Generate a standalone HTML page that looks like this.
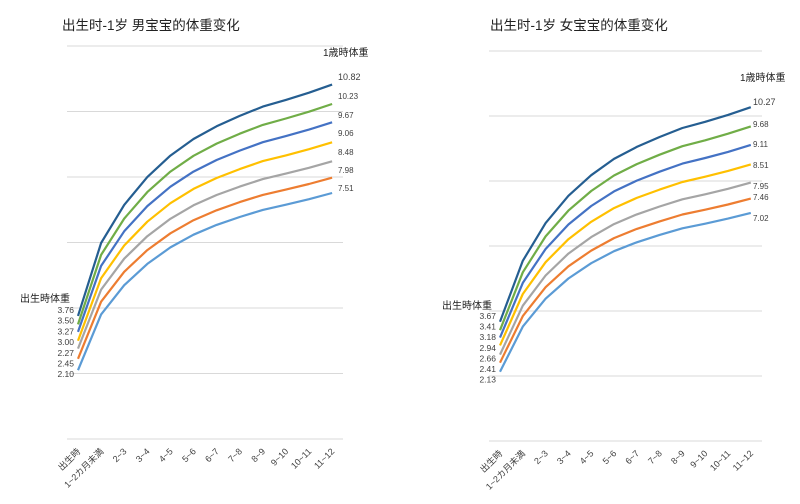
<!DOCTYPE html>
<html><head><meta charset="utf-8"><style>
body{margin:0;background:#fff;}
svg{display:block;font-family:"Liberation Sans","Noto Sans CJK SC",sans-serif;}
</style></head><body>
<svg id="s" width="800" height="504" viewBox="0 0 800 504"></svg>
<script>
const s=document.getElementById('s');
let h='';
const cols=['#255e91','#70ad47','#4472c4','#ffc000','#a5a5a5','#ed7d31','#5b9bd5'];
const cats=['出生時','1~2カ月未満','2~3','3~4','4~5','5~6','6~7','7~8','8~9','9~10','10~11','11~12'];
function chart(o){
  const f=o.f;
  for(let k=0;k<7;k++){const y=o.y0-k*2*o.sc;h+=`<line x1="${o.gx1}" x2="${o.gx2}" y1="${y}" y2="${y}" stroke="#d9d9d9" stroke-width="1"/>`;}
  o.s.forEach((v,si)=>{
    let p=[];
    for(let i=0;i<12;i++){const val=v[0]+(v[1]-v[0])*f[i];p.push((o.x0+i*o.dx).toFixed(1)+','+(o.y0-val*o.sc).toFixed(1));}
    h+=`<polyline points="${p.join(' ')}" fill="none" stroke="${cols[si]}" stroke-width="2.2" stroke-linejoin="round"/>`;
  });
  o.s.forEach((v,si)=>{
    h+=`<text x="${o.sx}" y="${o.sy+si*o.sdy}" font-size="8.5" text-anchor="end" fill="#404040">${o.sl[si]}</text>`;
    h+=`<text x="${o.ex}" y="${o.ey[si]}" font-size="${si==0?9:8}" fill="#404040">${v[1].toFixed(2)}</text>`;
  });
  cats.forEach((c,i)=>{const x=o.x0+i*o.dx+3;h+=`<text transform="translate(${x},${o.ly}) rotate(-45)" font-size="9" text-anchor="end" fill="#404040">${c}</text>`;});
  h+=`<text x="${o.tx}" y="30" font-size="13.5" fill="#222">${o.title}</text>`;
  h+=`<text x="${o.ax}" y="${o.ay}" font-size="10" fill="#222">1歳時体重</text>`;
  h+=`<text x="${o.bx}" y="${o.by}" font-size="10" fill="#222">出生時体重</text>`;
}
chart({f:[0,0.315,0.48,0.6,0.693,0.765,0.82,0.865,0.905,0.934,0.965,1],
 y0:439,sc:32.75,gx1:67,gx2:343,x0:78,dx:23.1,
 s:[[3.76,10.82],[3.50,10.23],[3.27,9.67],[3.00,9.06],[2.76,8.48],[2.45,7.98],[2.10,7.51]],
 sl:['3.76','3.50','3.27','3.00','2.27','2.45','2.10'],
 sx:74,sy:313,sdy:10.7,ex:338,ey:[80,99,118,136,155,173,191],ly:452,
 title:'出生时-1岁 男宝宝的体重变化',tx:62,ax:323,ay:56,bx:20,by:302});
chart({f:[0,0.284,0.46,0.587,0.683,0.759,0.815,0.861,0.903,0.932,0.964,1],
 y0:441,sc:32.5,gx1:489,gx2:762,x0:500,dx:22.8,
 s:[[3.67,10.27],[3.41,9.68],[3.18,9.11],[2.94,8.51],[2.66,7.95],[2.41,7.46],[2.13,7.02]],
 sl:['3.67','3.41','3.18','2.94','2.66','2.41','2.13'],
 sx:496,sy:319,sdy:10.6,ex:753,ey:[105,127,147,168,189,200,221],ly:454,
 title:'出生时-1岁 女宝宝的体重变化',tx:490,ax:740,ay:81,bx:442,by:309});
s.innerHTML=h;
</script>
</body></html>
